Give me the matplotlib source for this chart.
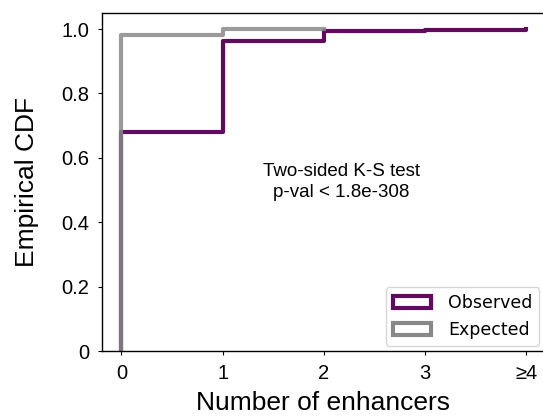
import matplotlib
matplotlib.use("Agg")
import matplotlib.pyplot as plt
from matplotlib.patches import Patch

categories = [0, 1, 2, 3, 4]
tick_labels = ["0", "1", "2", "3", "≥4"]
observed_cdf = [0.68, 0.963, 0.995, 0.998, 1.0]
expected_categories = [0, 1, 2]
expected_cdf = [0.983, 0.999, 1.0]
y_ticks = [0, 0.2, 0.4, 0.6, 0.8, 1.0]
y_tick_labels = ["0", "0.2", "0.4", "0.6", "0.8", "1.0"]

purple = "#600a60"
gray = "#888888"

fig = plt.figure(figsize=(5.43, 4.17), dpi=100)
ax = fig.add_axes([0.188, 0.158, 0.815, 0.811])

ax.step([categories[0]] + categories, [0] + observed_cdf, where="post", color=purple, lw=3)
ax.step([expected_categories[0]] + expected_categories, [0] + expected_cdf, where="post",
        color=gray, lw=3, alpha=0.85)

ax.set_xlim(-0.19, 4.18)
ax.set_ylim(0, 1.05)
ax.set_xticks(categories)
ax.set_xticklabels(tick_labels, fontsize=14.5, family="Liberation Sans")
ax.set_yticks(y_ticks)
ax.set_yticklabels(y_tick_labels, fontsize=14.5, family="Liberation Sans")
ax.tick_params(length=3, width=0.8, pad=6)
for s in ax.spines.values():
    s.set_linewidth(1.0)
ax.set_xlabel("Number of enhancers", fontsize=19, family="Liberation Sans", labelpad=6)
ax.set_ylabel("Empirical CDF", fontsize=19, family="Liberation Sans", labelpad=16)

ax.text(2.17, 0.525, "Two-sided K-S test\np-val < 1.8e-308", ha="center", va="center",
        fontsize=13.5, family="Liberation Sans", linespacing=1.35)

handles = [Patch(facecolor="white", edgecolor=purple, lw=3, label="Observed"),
           Patch(facecolor="white", edgecolor=gray, lw=3, label="Expected")]
ax.legend(handles=handles, loc="lower right", fontsize=12.5, frameon=True,
          borderaxespad=0.3, handlelength=2.2, handletextpad=1.0)

fig.savefig("out.png", dpi=100)
